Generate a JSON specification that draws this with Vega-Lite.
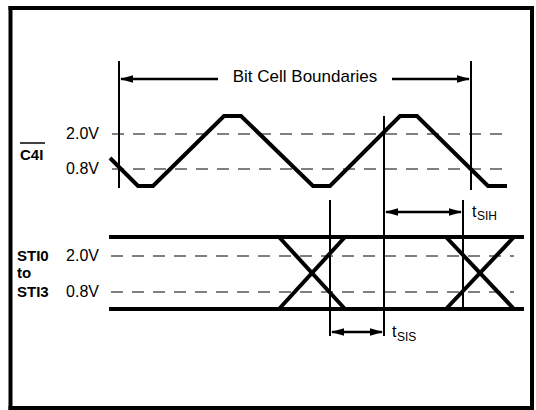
{
  "$schema": "https://vega.github.io/schema/vega-lite/v6.json",
  "width": 536,
  "height": 410,
  "padding": 0,
  "autosize": {"type": "none"},
  "background": "white",
  "config": {"view": {"stroke": null}},
  "datasets": {
    "wave": [
      {"o": 0, "x": 110, "y": 158}, {"o": 1, "x": 138, "y": 186}, {"o": 2, "x": 153, "y": 186},
      {"o": 3, "x": 224, "y": 116}, {"o": 4, "x": 241, "y": 116}, {"o": 5, "x": 313, "y": 186},
      {"o": 6, "x": 330, "y": 186}, {"o": 7, "x": 400, "y": 116}, {"o": 8, "x": 417, "y": 116},
      {"o": 9, "x": 488, "y": 186}, {"o": 10, "x": 507, "y": 186}
    ],
    "segs": [
      {"kind": "rail", "x": 109, "x2": 524, "y": 237, "y2": 237},
      {"kind": "rail", "x": 109, "x2": 524, "y": 309, "y2": 309},
      {"kind": "rail", "x": 279, "x2": 345, "y": 237, "y2": 309},
      {"kind": "rail", "x": 279, "x2": 345, "y": 309, "y2": 237},
      {"kind": "rail", "x": 446, "x2": 514, "y": 237, "y2": 309},
      {"kind": "rail", "x": 446, "x2": 514, "y": 309, "y2": 237},
      {"kind": "marker", "x": 119, "x2": 119, "y": 61, "y2": 188},
      {"kind": "marker", "x": 471, "x2": 471, "y": 61, "y2": 190},
      {"kind": "marker", "x": 330, "x2": 330, "y": 200, "y2": 336},
      {"kind": "marker", "x": 384, "x2": 384, "y": 116, "y2": 336},
      {"kind": "marker", "x": 463, "x2": 463, "y": 200, "y2": 309},
      {"kind": "threshold", "x": 112, "x2": 508, "y": 134, "y2": 134},
      {"kind": "threshold", "x": 112, "x2": 508, "y": 169, "y2": 169},
      {"kind": "threshold", "x": 111, "x2": 514, "y": 256, "y2": 256},
      {"kind": "threshold", "x": 111, "x2": 514, "y": 292, "y2": 292},
      {"kind": "dimension", "x": 121, "x2": 218, "y": 79, "y2": 79},
      {"kind": "dimension", "x": 392, "x2": 469, "y": 79, "y2": 79},
      {"kind": "dimension", "x": 386, "x2": 461, "y": 212, "y2": 212},
      {"kind": "dimension", "x": 332, "x2": 382, "y": 332, "y2": 332},
      {"kind": "overline", "x": 20, "x2": 45, "y": 143, "y2": 143},
      {"kind": "frame", "x": 10.5, "x2": 532, "y": 8, "y2": 8},
      {"kind": "frame", "x": 10.5, "x2": 532, "y": 408, "y2": 408},
      {"kind": "frame", "x": 10.5, "x2": 10.5, "y": 8, "y2": 408},
      {"kind": "frame", "x": 532, "x2": 532, "y": 8, "y2": 408}
    ],
    "heads": [
      {"x": 120, "y": 79, "dir": "left"}, {"x": 470, "y": 79, "dir": "right"},
      {"x": 385, "y": 212, "dir": "left"}, {"x": 462, "y": 212, "dir": "right"},
      {"x": 331, "y": 332, "dir": "left"}, {"x": 383, "y": 332, "dir": "right"}
    ],
    "labels": [
      {"role": "title", "text": "Bit Cell Boundaries", "x": 305, "y": 77},
      {"role": "level", "text": "2.0V", "x": 99, "y": 134},
      {"role": "level", "text": "0.8V", "x": 99, "y": 169},
      {"role": "level", "text": "2.0V", "x": 99, "y": 256},
      {"role": "level", "text": "0.8V", "x": 99, "y": 292},
      {"role": "signal", "text": "C4I", "x": 20, "y": 155},
      {"role": "signal", "text": "STI0", "x": 17, "y": 256},
      {"role": "signal", "text": "to", "x": 17, "y": 273},
      {"role": "signal", "text": "STI3", "x": 17, "y": 292},
      {"role": "t", "text": "t", "x": 472, "y": 217},
      {"role": "sub", "text": "SIH", "x": 477, "y": 220},
      {"role": "t", "text": "t", "x": 392, "y": 337},
      {"role": "sub", "text": "SIS", "x": 397, "y": 341}
    ]
  },
  "layer": [
    {
      "data": {"name": "segs"},
      "transform": [{"filter": "datum.kind === 'threshold'"}],
      "mark": {"type": "rule", "color": "black", "strokeWidth": 1, "strokeDash": [12, 9]},
      "encoding": {
        "x": {"field": "x", "type": "quantitative", "scale": {"domain": [0, 536], "nice": false, "zero": false}, "axis": null},
        "x2": {"field": "x2"},
        "y": {"field": "y", "type": "quantitative", "scale": {"domain": [0, 410], "nice": false, "zero": false, "reverse": true}, "axis": null},
        "y2": {"field": "y2"}
      }
    },
    {
      "data": {"name": "segs"},
      "transform": [{"filter": "datum.kind === 'marker'"}],
      "mark": {"type": "rule", "color": "black", "strokeWidth": 2},
      "encoding": {
        "x": {"field": "x", "type": "quantitative", "axis": null},
        "x2": {"field": "x2"},
        "y": {"field": "y", "type": "quantitative", "axis": null},
        "y2": {"field": "y2"}
      }
    },
    {
      "data": {"name": "segs"},
      "transform": [{"filter": "datum.kind === 'dimension'"}],
      "mark": {"type": "rule", "color": "black", "strokeWidth": 2.5},
      "encoding": {
        "x": {"field": "x", "type": "quantitative", "axis": null},
        "x2": {"field": "x2"},
        "y": {"field": "y", "type": "quantitative", "axis": null},
        "y2": {"field": "y2"}
      }
    },
    {
      "data": {"name": "segs"},
      "transform": [{"filter": "datum.kind === 'overline'"}],
      "mark": {"type": "rule", "color": "black", "strokeWidth": 1.5},
      "encoding": {
        "x": {"field": "x", "type": "quantitative", "axis": null},
        "x2": {"field": "x2"},
        "y": {"field": "y", "type": "quantitative", "axis": null},
        "y2": {"field": "y2"}
      }
    },
    {
      "data": {"name": "segs"},
      "transform": [{"filter": "datum.kind === 'frame'"}],
      "mark": {"type": "rule", "color": "black", "strokeWidth": 4, "strokeCap": "square"},
      "encoding": {
        "x": {"field": "x", "type": "quantitative", "axis": null},
        "x2": {"field": "x2"},
        "y": {"field": "y", "type": "quantitative", "axis": null},
        "y2": {"field": "y2"}
      }
    },
    {
      "data": {"name": "segs"},
      "transform": [{"filter": "datum.kind === 'rail'"}],
      "mark": {"type": "rule", "color": "black", "strokeWidth": 4},
      "encoding": {
        "x": {"field": "x", "type": "quantitative", "axis": null},
        "x2": {"field": "x2"},
        "y": {"field": "y", "type": "quantitative", "axis": null},
        "y2": {"field": "y2"}
      }
    },
    {
      "data": {"name": "wave"},
      "mark": {"type": "line", "color": "black", "strokeWidth": 4, "strokeJoin": "miter"},
      "encoding": {
        "x": {"field": "x", "type": "quantitative", "axis": null},
        "y": {"field": "y", "type": "quantitative", "axis": null},
        "order": {"field": "o", "type": "quantitative"}
      }
    },
    {
      "data": {"name": "heads"},
      "transform": [{"filter": "datum.dir === 'right'"}],
      "mark": {"type": "point", "shape": "M0,0L-1,-0.28L-1,0.28Z", "filled": true, "color": "black", "opacity": 1, "size": 676, "strokeWidth": 0},
      "encoding": {
        "x": {"field": "x", "type": "quantitative", "axis": null},
        "y": {"field": "y", "type": "quantitative", "axis": null}
      }
    },
    {
      "data": {"name": "heads"},
      "transform": [{"filter": "datum.dir === 'left'"}],
      "mark": {"type": "point", "shape": "M0,0L1,-0.28L1,0.28Z", "filled": true, "color": "black", "opacity": 1, "size": 676, "strokeWidth": 0},
      "encoding": {
        "x": {"field": "x", "type": "quantitative", "axis": null},
        "y": {"field": "y", "type": "quantitative", "axis": null}
      }
    },
    {
      "data": {"name": "labels"},
      "transform": [{"filter": "datum.role === 'title'"}],
      "mark": {"type": "text", "font": "Liberation Sans", "fontSize": 17, "align": "center", "baseline": "middle", "color": "black"},
      "encoding": {
        "x": {"field": "x", "type": "quantitative", "axis": null},
        "y": {"field": "y", "type": "quantitative", "axis": null},
        "text": {"field": "text"}
      }
    },
    {
      "data": {"name": "labels"},
      "transform": [{"filter": "datum.role === 'level'"}],
      "mark": {"type": "text", "font": "Liberation Sans", "fontSize": 16, "align": "right", "baseline": "middle", "color": "black"},
      "encoding": {
        "x": {"field": "x", "type": "quantitative", "axis": null},
        "y": {"field": "y", "type": "quantitative", "axis": null},
        "text": {"field": "text"}
      }
    },
    {
      "data": {"name": "labels"},
      "transform": [{"filter": "datum.role === 'signal'"}],
      "mark": {"type": "text", "font": "Liberation Sans", "fontSize": 15, "fontWeight": "bold", "align": "left", "baseline": "middle", "color": "black"},
      "encoding": {
        "x": {"field": "x", "type": "quantitative", "axis": null},
        "y": {"field": "y", "type": "quantitative", "axis": null},
        "text": {"field": "text"}
      }
    },
    {
      "data": {"name": "labels"},
      "transform": [{"filter": "datum.role === 't'"}],
      "mark": {"type": "text", "font": "Liberation Sans", "fontSize": 16, "align": "left", "baseline": "alphabetic", "color": "black"},
      "encoding": {
        "x": {"field": "x", "type": "quantitative", "axis": null},
        "y": {"field": "y", "type": "quantitative", "axis": null},
        "text": {"field": "text"}
      }
    },
    {
      "data": {"name": "labels"},
      "transform": [{"filter": "datum.role === 'sub'"}],
      "mark": {"type": "text", "font": "Liberation Sans", "fontSize": 12, "align": "left", "baseline": "alphabetic", "color": "black"},
      "encoding": {
        "x": {"field": "x", "type": "quantitative", "axis": null},
        "y": {"field": "y", "type": "quantitative", "axis": null},
        "text": {"field": "text"}
      }
    }
  ]
}
